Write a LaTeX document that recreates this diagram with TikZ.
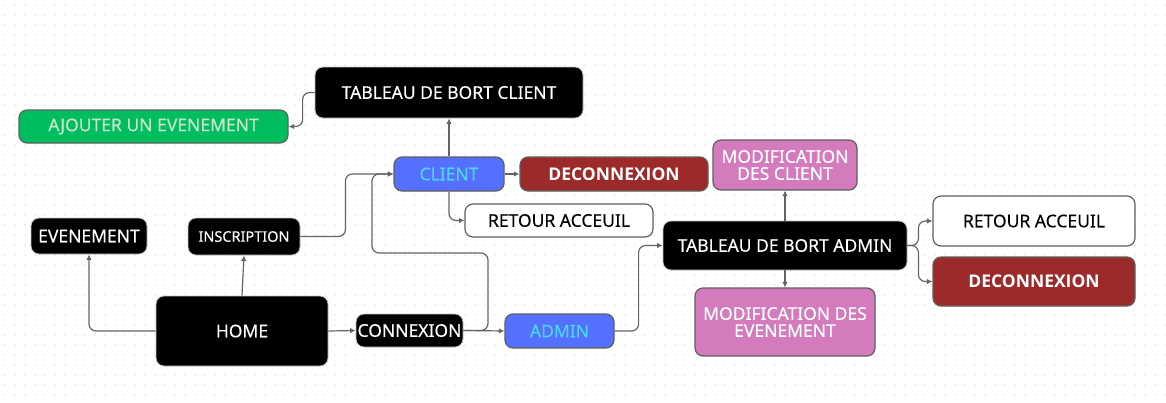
\documentclass[tikz,border=0pt]{standalone}
\usepackage{fontspec}
\setmainfont{Noto Sans}[FakeBold=0.3]
\newfontfamily\boldfam{Open Sans}[UprightFont=* Bold]
\usetikzlibrary{arrows.meta}
\definecolor{cgreen}{RGB}{0,190,95}
\definecolor{cgreentxt}{RGB}{200,228,205}
\definecolor{cblue}{RGB}{85,112,255}
\definecolor{cbluetxt}{RGB}{75,215,235}
\definecolor{cred}{RGB}{156,42,42}
\definecolor{cpink}{RGB}{211,123,189}
\definecolor{cborder}{RGB}{95,95,95}
\definecolor{cline}{RGB}{100,100,100}
\definecolor{cdot}{RGB}{228,228,228}
\tikzset{
  box/.style={rounded corners=8pt, inner sep=0pt, align=center, line width=1.2pt, draw=cborder,
    font=\fontsize{17.5}{17}\selectfont},
  blackbox/.style={box, fill=black, text=white, draw=gray!45, line width=0.8pt},
  greenbox/.style={box, fill=cgreen, text=cgreentxt},
  bluebox/.style={box, fill=cblue, text=cbluetxt},
  redbox/.style={box, fill=cred, text=white, font=\fontsize{17.5}{18}\selectfont\boldfam},
  pinkbox/.style={box, fill=cpink, text=white},
  whitebox/.style={box, fill=white, text=black},
  conn/.style={draw=cline, line width=1.2pt, rounded corners=7pt, -{Latex[length=5.5pt,width=5.5pt]}},
}
\begin{document}
\begin{tikzpicture}[x=1pt,y=-1pt]
\useasboundingbox (0,0) rectangle (1166,402);
\fill[white] (0,0) rectangle (1166,402);
\foreach \i in {0,...,116} {
  \foreach \j in {0,...,40} {
    \fill[cdot] (\i*10+5,\j*10+5) circle (0.8pt);
  }
}
% nodes
\node[blackbox, minimum width=268pt, minimum height=51pt] (tbc) at (449,92.5) {TABLEAU DE BORT CLIENT};
\node[greenbox, minimum width=269pt, minimum height=33pt] (ajout) at (153.5,126.5) {AJOUTER UN EVENEMENT};
\node[bluebox, minimum width=110pt, minimum height=34pt] (client) at (449,174) {CLIENT};
\node[redbox, minimum width=188pt, minimum height=34pt] (dec1) at (614,174) {DECONNEXION};
\node[whitebox, minimum width=188pt, minimum height=33pt] (ret1) at (559,220.5) {RETOUR ACCEUIL};
\node[pinkbox, minimum width=144pt, minimum height=50pt] (modc) at (785,165) {MODIFICATION\\DES CLIENT};
\node[blackbox, minimum width=116pt, minimum height=36pt] (even) at (89,236) {EVENEMENT};
\node[blackbox, minimum width=112pt, minimum height=37pt, font=\fontsize{14.5}{15}\selectfont] (insc) at (244,236.5) {INSCRIPTION};
\node[blackbox, minimum width=172pt, minimum height=70pt] (home) at (242,331) {HOME};
\node[blackbox, minimum width=107pt, minimum height=33pt] (conn) at (409.5,330.5) {CONNEXION};
\node[bluebox, minimum width=109pt, minimum height=34pt] (admin) at (559.5,331) {ADMIN};
\node[blackbox, minimum width=244pt, minimum height=49pt] (tad) at (785,245.5) {TABLEAU DE BORT ADMIN};
\node[pinkbox, minimum width=180pt, minimum height=68pt] (mode) at (785,322) {MODIFICATION DES\\EVENEMENT};
\node[whitebox, minimum width=202pt, minimum height=50pt] (ret2) at (1034,221) {RETOUR ACCEUIL};
\node[redbox, minimum width=202pt, minimum height=49pt] (dec2) at (1034,281.5) {DECONNEXION};
% helper coordinates
\coordinate (k1) at (488,253);
\coordinate (k2) at (372,253);
% connectors
\draw[conn] (tbc.west) -- ++(-12,0) |- (ajout.east);
\draw[conn] (client.north) -- (tbc.south);
\draw[conn] (client.east) -- (dec1.west);
\draw[conn] (client.south) |- (ret1.west);
\draw[conn] (home.west) -| (even.south);
\draw[conn] (home.north) -- (insc.south);
\draw[conn] (insc.east) -- ++(45,0) |- (client.west);
\draw[conn] (home.east) -- (conn.west);
\draw[conn] (conn.east) -| (k1) -- (k2) |- (client.west);
\draw[conn] (conn.east) -- (admin.west);
\draw[conn] (admin.east) -- ++(24,0) |- (tad.west);
\draw[conn] (tad.north) -- (modc.south);
\draw[conn] (tad.south) -- (mode.north);
\draw[conn] (tad.east) -- ++(11,0) |- (ret2.west);
\draw[conn] (tad.east) -- ++(11,0) |- (dec2.west);
\end{tikzpicture}
\end{document}
